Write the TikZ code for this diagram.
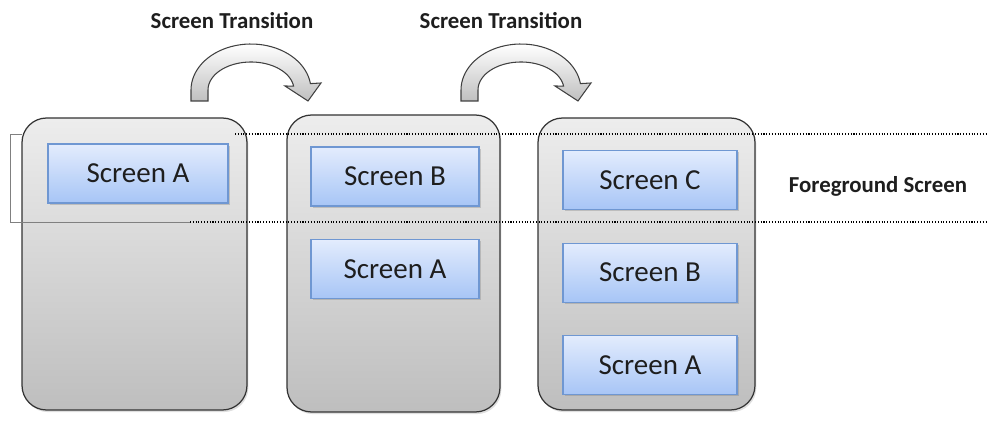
\documentclass[tikz,border=0pt]{standalone}
\usepackage{fontspec}
\setmainfont{Carlito}
\usetikzlibrary{shadows,positioning}

\definecolor{boxtop}{HTML}{E3ECFD}
\definecolor{boxbot}{HTML}{A7C5F6}
\definecolor{boxline}{HTML}{6F97D2}
\definecolor{contop}{HTML}{EDEDED}
\definecolor{conbot}{HTML}{BEBEBE}
\definecolor{txt}{HTML}{1E1E1E}

\tikzset{
  container/.style={draw=black!80, line width=0.7pt, rounded corners=14pt,
    top color=contop, bottom color=conbot,
    drop shadow={opacity=0.25,shadow xshift=0.8pt,shadow yshift=-1.2pt}},
  screen/.style={draw=boxline, line width=0.6pt, top color=boxtop, bottom color=boxbot,
    minimum height=1.18cm, inner sep=0pt, font=\fontsize{16.5}{19}\selectfont, text=txt,
    drop shadow={opacity=0.35,shadow xshift=1pt,shadow yshift=-1pt}},
  transarrow/.style={draw=black!75, line width=0.6pt, top color=white, bottom color=black!25},
  toplabel/.style={font=\bfseries\fontsize{13}{15}\selectfont, text=txt}
}

\begin{document}
\begin{tikzpicture}[x=0.02cm, y=-0.02cm, node distance=0.65cm]

   \useasboundingbox (0,0) rectangle (988,422);

   % foreground band, left part
   \draw [gray, line width=0.4pt] (22,134) -- (10,134) -- (10,222) -- (22,222);

   % the three stacks
   \draw [container] (22,118) rectangle (247,410);
   \draw [container] (287,115) rectangle (500,412);
   \draw [container] (538,118) rectangle (755,410);

   \draw [gray, line width=0.4pt] (10,222) -- (190,222);
   \draw [densely dotted, line width=0.6pt] (235,134) -- (988,134);
   \draw [densely dotted, line width=0.6pt] (190,222) -- (988,222);

   \node[screen, minimum width=3.6cm] (s1a) at (138,173.5) {Screen A};

   \node[screen, minimum width=3.36cm] (s2b) at (395,176.5) {Screen B};
   \node[screen, minimum width=3.36cm, below=of s2b] (s2a) {Screen A};

   \node[screen, minimum width=3.48cm] (s3c) at (650,180) {Screen C};
   \node[screen, minimum width=3.48cm, below=of s3c] (s3b) {Screen B};
   \node[screen, minimum width=3.48cm, below=of s3b] (s3a) {Screen A};

   \node[toplabel] (t1) at (232,21) {Screen Transition};
   \node[toplabel] (t2) at (501,21) {Screen Transition};
   \node[toplabel] (fg) at (878,186) {Foreground Screen};

   % curved arrows
   \draw [transarrow] (191,101) -- plot[domain=180:8, samples=40] ({251+60*cos(\x)},{90-46*sin(\x)})
      -- (321,83) -- (308,101) -- (285,86)
      -- plot[domain=8:180, samples=40] ({251+43*cos(\x)},{90-28*sin(\x)}) -- (208,101) -- cycle;

   \begin{scope}[shift={(270,0)}]
      \draw [transarrow] (191,101) -- plot[domain=180:8, samples=40] ({251+60*cos(\x)},{90-46*sin(\x)})
         -- (321,83) -- (308,101) -- (285,86)
         -- plot[domain=8:180, samples=40] ({251+43*cos(\x)},{90-28*sin(\x)}) -- (208,101) -- cycle;
   \end{scope}

\end{tikzpicture}
\end{document}
